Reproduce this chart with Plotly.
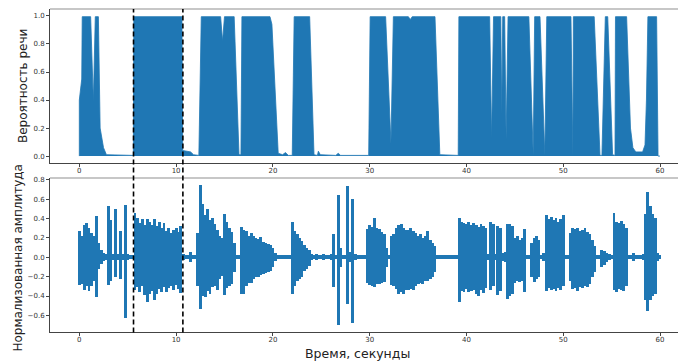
import numpy as np
import plotly.graph_objects as go

BLUE = "#1f77b4"

# ---- speech probability (breakpoints: time in s, probability) ----
prob_t = [0.0, 0.0, 0.25, 0.3, 1.17, 1.45, 1.65, 1.97, 2.15, 2.5, 2.8, 5.58,
          5.63, 10.6, 10.68, 11.5, 11.8, 12.35, 12.6, 14.6, 14.8, 15.0, 16.0,
          16.5, 16.7, 16.8, 19.7, 19.9, 20.55, 21.0, 21.3, 21.6, 22.0, 22.2,
          23.8, 24.25, 24.6, 24.7, 24.9, 26.5, 26.75, 27.0, 29.9, 30.05, 31.65,
          32.2, 32.45, 34.0, 34.2, 34.4, 36.75, 37.25, 39.15, 39.22, 42.4, 42.6,
          42.8, 43.55, 43.65, 43.75, 43.95, 44.1, 44.3, 46.45, 46.9, 47.05, 47.6,
          48.1, 48.3, 50.8, 51.0, 51.05, 53.2, 53.8, 54.0, 54.35, 54.6, 55.1,
          55.35, 55.4, 56.55, 56.75, 56.95, 57.2, 57.5, 58.2, 58.45, 58.6,
          58.75, 59.65, 59.8, 60.0]
prob_v = [0.0, 0.40, 0.55, 0.995, 0.995, 0.39, 0.995, 0.995, 0.20, 0.06, 0.01, 0.005,
          0.995, 0.995, 0.04, 0.03, 0.01, 0.005, 0.995, 0.995, 0.82, 0.995, 0.995,
          0.01, 0.01, 0.995, 0.995, 0.94, 0.02, 0.01, 0.025, 0.005, 0.005, 0.995,
          0.995, 0.01, 0.005, 0.035, 0.01, 0.005, 0.02, 0.005, 0.005, 0.995, 0.995,
          0.09, 0.995, 0.995, 0.975, 0.995, 0.995, 0.01, 0.005, 0.995, 0.995, 0.12,
          0.995, 0.995, 0.30, 0.995, 0.995, 0.12, 0.995, 0.995, 0.005, 0.995, 0.995,
          0.005, 0.995, 0.995, 0.005, 0.995, 0.995, 0.005, 0.005, 0.995, 0.995, 0.01,
          0.005, 0.995, 0.995, 0.60, 0.20, 0.06, 0.03, 0.03, 0.08, 0.40,
          0.995, 0.995, 0.0, 0.0]

# ---- normalised amplitude envelope, one value per 0.25 s (0 .. 60 s) ----
amp_step = 0.25
amp_upper = [
    0.27, 0.22, 0.33, 0.35,  0.30, 0.25, 0.22, 0.43,  0.15, 0.08, 0.04, 0.03,
    0.53, 0.38, 0.03, 0.50,  0.03, 0.27, 0.03, 0.54,  0.03, 0.02, 0.02, 0.46,
    0.41, 0.35, 0.39, 0.33,  0.39, 0.36, 0.33, 0.39,  0.32, 0.36, 0.30, 0.35,
    0.27, 0.30, 0.25, 0.28,  0.30, 0.26, 0.32, 0.03,  0.02, 0.02, 0.05, 0.02,
    0.02, 0.25, 0.75, 0.55,  0.44, 0.50, 0.38, 0.41,  0.34, 0.28, 0.22, 0.20,
    0.45, 0.36, 0.30, 0.26,  0.15, 0.02, 0.02, 0.31,  0.28, 0.27, 0.22, 0.25,
    0.22, 0.20, 0.19, 0.21,  0.16, 0.15, 0.14, 0.13,  0.10, 0.04, 0.02, 0.02,
    0.02, 0.02, 0.02, 0.02,  0.36, 0.27, 0.24, 0.20,  0.17, 0.13, 0.10, 0.08,
    0.03, 0.02, 0.03, 0.02,  0.02, 0.03, 0.02, 0.02,  0.03, 0.24, 0.02, 0.64,
    0.10, 0.02, 0.02, 0.74,  0.05, 0.60, 0.03, 0.02,  0.02, 0.02, 0.02, 0.29,
    0.33, 0.31, 0.41, 0.30,  0.29, 0.26, 0.24, 0.10,  0.02, 0.22, 0.24, 0.30,
    0.33, 0.34, 0.30, 0.28,  0.28, 0.30, 0.27, 0.25,  0.22, 0.24, 0.20, 0.22,
    0.27, 0.18, 0.15, 0.12,  0.02, 0.02, 0.02, 0.02,  0.02, 0.02, 0.02, 0.02,
    0.02, 0.41, 0.36, 0.35,  0.34, 0.36, 0.33, 0.35,  0.33, 0.31, 0.34, 0.32,
    0.30, 0.03, 0.36, 0.34,  0.03, 0.32, 0.30, 0.04,  0.05, 0.34, 0.34, 0.32,
    0.20, 0.22, 0.18, 0.20,  0.29, 0.02, 0.02, 0.15,  0.20, 0.22, 0.18, 0.02,
    0.04, 0.44, 0.40, 0.42,  0.38, 0.41, 0.36, 0.40,  0.44, 0.02, 0.02, 0.25,
    0.30, 0.29, 0.30, 0.27,  0.28, 0.30, 0.26, 0.24,  0.18, 0.12, 0.02, 0.02,
    0.07, 0.06, 0.04, 0.03,  0.02, 0.46, 0.36, 0.35,  0.37, 0.34, 0.30, 0.02,
    0.02, 0.04, 0.02, 0.02,  0.02, 0.03, 0.45, 0.67,  0.53, 0.45, 0.41, 0.04,
    0.02]
amp_lower = [
    -0.29, -0.28, -0.34, -0.30,  -0.35, -0.30, -0.25, -0.41,  -0.12, -0.07, -0.04, -0.03,
    -0.29, -0.25, -0.03, -0.20,  -0.03, -0.22, -0.03, -0.63,  -0.03, -0.02, -0.02, -0.34,
    -0.31, -0.36, -0.30, -0.39,  -0.46, -0.38, -0.35, -0.44,  -0.38, -0.33, -0.36, -0.31,
    -0.36, -0.32, -0.30, -0.34,  -0.29, -0.33, -0.37, -0.03,  -0.02, -0.02, -0.05, -0.02,
    -0.02, -0.30, -0.53, -0.40,  -0.41, -0.35, -0.38, -0.31,  -0.30, -0.34, -0.22, -0.19,
    -0.39, -0.32, -0.30, -0.28,  -0.15, -0.02, -0.02, -0.38,  -0.38, -0.30, -0.27, -0.27,
    -0.22, -0.20, -0.20, -0.18,  -0.17, -0.16, -0.15, -0.14,  -0.10, -0.04, -0.02, -0.02,
    -0.02, -0.02, -0.02, -0.02,  -0.38, -0.30, -0.25, -0.22,  -0.20, -0.14, -0.12, -0.09,
    -0.03, -0.02, -0.03, -0.02,  -0.02, -0.03, -0.02, -0.02,  -0.03, -0.31, -0.02, -0.70,
    -0.10, -0.02, -0.02, -0.48,  -0.05, -0.68, -0.03, -0.02,  -0.02, -0.02, -0.02, -0.27,
    -0.29, -0.30, -0.31, -0.28,  -0.28, -0.27, -0.26, -0.10,  -0.02, -0.29, -0.30, -0.33,
    -0.38, -0.36, -0.38, -0.34,  -0.34, -0.33, -0.34, -0.30,  -0.28, -0.27, -0.28, -0.25,
    -0.24, -0.22, -0.20, -0.15,  -0.02, -0.02, -0.02, -0.02,  -0.02, -0.02, -0.02, -0.02,
    -0.02, -0.46, -0.35, -0.36,  -0.33, -0.36, -0.35, -0.34,  -0.38, -0.40, -0.34, -0.37,
    -0.32, -0.03, -0.34, -0.30,  -0.03, -0.39, -0.35, -0.04,  -0.05, -0.43, -0.40, -0.38,
    -0.27, -0.24, -0.26, -0.24,  -0.36, -0.02, -0.02, -0.20,  -0.26, -0.22, -0.20, -0.02,
    -0.04, -0.35, -0.32, -0.34,  -0.33, -0.35, -0.32, -0.34,  -0.30, -0.02, -0.02, -0.25,
    -0.33, -0.32, -0.35, -0.31,  -0.32, -0.30, -0.31, -0.28,  -0.20, -0.15, -0.02, -0.02,
    -0.10, -0.08, -0.05, -0.03,  -0.02, -0.34, -0.36, -0.33,  -0.34, -0.35, -0.30, -0.02,
    -0.02, -0.04, -0.02, -0.02,  -0.02, -0.03, -0.44, -0.55,  -0.44, -0.40, -0.38, -0.04,
    -0.02]

segment_bounds = [5.6, 10.7]   # dashed markers (s)

x_ticks = [0, 10, 20, 30, 40, 50, 60]
prob_ticks = [0.0, 0.2, 0.4, 0.6, 0.8, 1.0]
amp_ticks = [-0.6, -0.4, -0.2, 0.0, 0.2, 0.4, 0.6, 0.8]

title_top = "Вероятность речи"
title_bottom = "Нормализованная амплитуда"
title_x = "Время, секунды"

# ---- build figure ----
amp_t = np.arange(len(amp_upper)) * amp_step
up = np.array(amp_upper)
lo = np.array(amp_lower)

W, H = 678, 362
FONT = "DejaVu Sans"

fig = go.Figure()
fig.add_trace(go.Scatter(x=prob_t, y=prob_v, mode="lines", fill="tozeroy",
                         fillcolor=BLUE, line=dict(color=BLUE, width=0.8),
                         xaxis="x", yaxis="y", showlegend=False, hoverinfo="skip"))
# waveform: one vertical min..max bar per 0.25 s sample (slightly overlapping)
fig.add_trace(go.Bar(x=amp_t, y=up - lo, base=lo, width=amp_step * 1.2,
                     marker=dict(color=BLUE, line=dict(width=0)),
                     xaxis="x2", yaxis="y2", showlegend=False, hoverinfo="skip"))

def px_y(p):
    return 1 - p / H

xr = [-3.03, 61.86]
xdom = [50 / W, 1.0]
top_dom = [px_y(162), px_y(7)]
bot_dom = [px_y(332.3), px_y(177)]

axis_common = dict(showgrid=False, zeroline=False, showline=True, linecolor="#444",
                   linewidth=1, ticks="outside", ticklen=3, tickwidth=0.8,
                   tickcolor="#444", tickfont=dict(family=FONT, size=7, color="#333"))

fig.update_layout(
    width=W, height=H, margin=dict(l=0, r=0, t=0, b=0),
    paper_bgcolor="white", plot_bgcolor="white", bargap=0,
    xaxis=dict(domain=xdom, range=xr, anchor="y", tickvals=x_ticks,
               ticklabelstandoff=-3, **axis_common),
    yaxis=dict(domain=top_dom, range=[-0.05, 1.05], anchor="x", tickvals=prob_ticks,
               tickformat=".1f", **axis_common),
    xaxis2=dict(domain=xdom, range=xr, anchor="y2", tickvals=x_ticks,
                ticklabelstandoff=-3, **axis_common),
    yaxis2=dict(domain=bot_dom, range=[-0.776, 0.818], anchor="x2", tickvals=amp_ticks,
                tickformat=".1f", **axis_common),
)

# top spines (lighter, as in the reference)
for dom in (top_dom, bot_dom):
    fig.add_shape(type="line", xref="paper", yref="paper", x0=xdom[0], x1=1.0,
                  y0=dom[1], y1=dom[1], line=dict(color="#b5b5b5", width=1.6))

# dashed segment markers spanning both panels
for b in segment_bounds:
    fig.add_shape(type="line", xref="x", yref="paper", x0=b, x1=b,
                  y0=bot_dom[0], y1=top_dom[1],
                  line=dict(color="black", width=1.6, dash="5px,3px"))

fig.add_annotation(text=title_top, xref="paper", yref="paper", x=23 / W,
                   y=(top_dom[0] + top_dom[1]) / 2, textangle=-90, showarrow=False,
                   xanchor="center", yanchor="middle",
                   font=dict(family=FONT, size=12, color="#222"))
fig.add_annotation(text=title_bottom, xref="paper", yref="paper", x=18 / W,
                   y=px_y(257), textangle=-90, showarrow=False,
                   xanchor="center", yanchor="middle",
                   font=dict(family=FONT, size=12, color="#222"))
fig.add_annotation(text=title_x, xref="paper", yref="paper", x=357 / W,
                   y=px_y(353), showarrow=False, xanchor="center", yanchor="middle",
                   font=dict(family=FONT, size=12.5, color="#222"))

fig.write_html("out.html")
